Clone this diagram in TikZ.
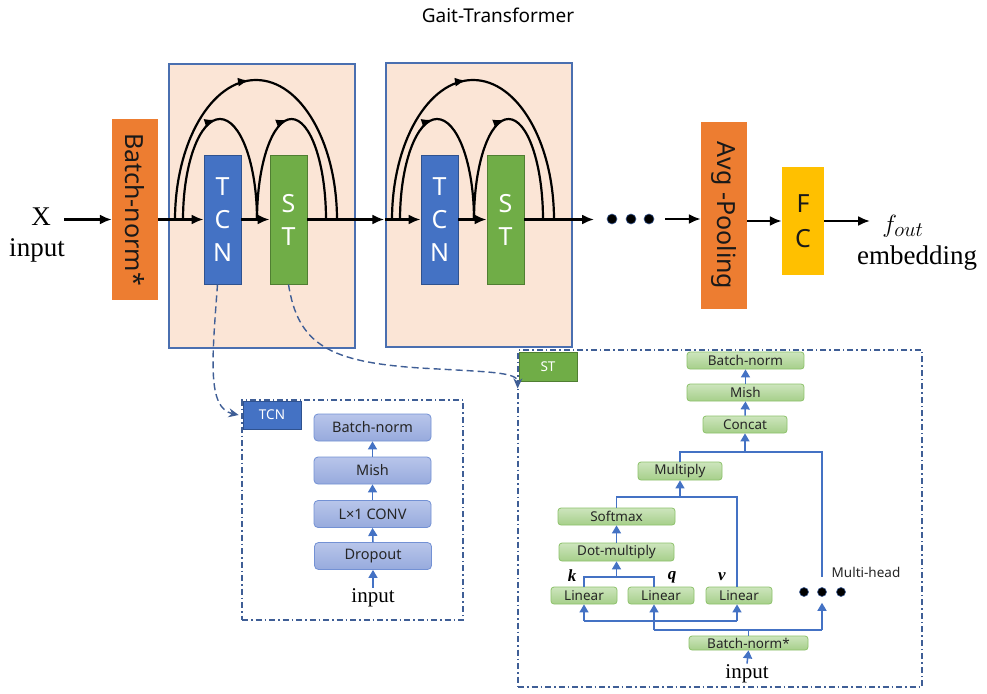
\documentclass[tikz,border=0pt]{standalone}
\usepackage{fontspec}
\setmainfont{Liberation Serif}
\newfontfamily\sansf{Noto Sans}
\usetikzlibrary{arrows.meta,decorations.markings}
\definecolor{peach}{HTML}{FBE5D6}
\definecolor{blkborder}{HTML}{4A6FB0}
\definecolor{tcnblue}{HTML}{4472C4}
\definecolor{tcnborder}{HTML}{2F528F}
\definecolor{stgreen}{HTML}{70AD47}
\definecolor{stborder}{HTML}{507E32}
\definecolor{orng}{HTML}{ED7D31}
\definecolor{gold}{HTML}{FFC000}
\definecolor{lnblue}{HTML}{4472C4}
\definecolor{dashc}{HTML}{3F5E96}
\definecolor{tboxtop}{HTML}{B8C5EA}
\definecolor{tboxbot}{HTML}{97AADD}
\definecolor{tboxdraw}{HTML}{7391D4}
\definecolor{sboxtop}{HTML}{CDE5BD}
\definecolor{sboxbot}{HTML}{A6CF8A}
\definecolor{sboxdraw}{HTML}{8DC26B}
\newcommand\myarcset{%
  \draw[skiparc] (175,220) .. controls (175,143) and (211,80) .. (256,80) .. controls (301,80) and (337,143) .. (337,220);
  \draw[skiparc] (183,220) .. controls (183,164) and (199.6,119) .. (220,119) .. controls (240.4,119) and (257,164) .. (257,220);
  \draw[skiparc] (257,220) .. controls (257,164) and (272.5,119) .. (291.5,119) .. controls (310.5,119) and (326,164) .. (326,220);
}
\begin{document}
\begin{tikzpicture}[x=1pt,y=-1pt,
  blk/.style={draw=blkborder, fill=peach, line width=1.3pt, minimum width=186pt, minimum height=284pt, inner sep=0pt},
  bigtxt/.style={font=\sansf\fontsize{25}{33}\selectfont, align=center, inner sep=0pt},
  tcnm/.style={bigtxt, draw=tcnborder, fill=tcnblue, line width=0.9pt, minimum width=37pt, minimum height=129pt, text=white},
  stm/.style={bigtxt, draw=stborder, fill=stgreen, line width=0.9pt, minimum width=37pt, minimum height=129pt, text=white},
  flow/.style={-{Latex[length=12pt,width=10pt]}, line width=2.2pt},
  skiparc/.style={line width=2.2pt, postaction={decorate}, decoration={markings, mark=at position 0.48 with {\arrow{Latex[length=11pt,width=9pt]}}}},
  tbox/.style={draw=tboxdraw, line width=0.8pt, rounded corners=4pt, top color=tboxtop, bottom color=tboxbot, minimum width=117pt, minimum height=27pt, inner sep=0pt, font=\sansf\fontsize{14.5}{16}\selectfont, text=black!85},
  sbox/.style={draw=sboxdraw, line width=0.8pt, rounded corners=3pt, top color=sboxtop, bottom color=sboxbot, minimum height=17pt, inner sep=0pt, font=\sansf\fontsize{13.5}{15}\selectfont, text=black!85},
  bline/.style={draw=lnblue, line width=1.5pt},
  barrow/.style={bline, -{Triangle[length=8pt,width=9pt]}},
  dd/.style={draw=dashc, line width=1.2pt, dash pattern=on 6pt off 3pt on 1.5pt off 3pt},
  dcon/.style={draw=dashc, line width=1.4pt, dash pattern=on 7pt off 4pt, -{Stealth[length=10pt,width=9pt]}},
  dotn/.style={circle, fill=black, draw=dashc, line width=0.6pt, minimum size=9pt, inner sep=0pt},
  bigserif/.style={font=\fontsize{27}{30}\selectfont, inner sep=0pt},
  smallserif/.style={font=\fontsize{21}{24}\selectfont, inner sep=1pt},
]
\useasboundingbox (0,0) rectangle (987,693);
\fill[white] (0,0) rectangle (987,693);

% title
\node[font=\sansf\fontsize{19}{22}\selectfont] (title) at (498,15) {Gait-Transformer};

% blocks
\node[blk] (blk1) at (262,206) {};
\node[blk] (blk2) at (479,205) {};

% dashed detail frames
\node[dd, minimum width=221pt, minimum height=220pt, inner sep=0pt] (tcnbox) at (352.5,510) {};
\node[dd, minimum width=404pt, minimum height=337pt, inner sep=0pt] (stbox) at (720,518.5) {};

% detail labels
\node[draw=tcnborder, fill=tcnblue, line width=0.8pt, minimum width=58pt, minimum height=28pt, inner sep=0pt, text=white, font=\sansf\fontsize{13.5}{15}\selectfont] (tcnlab) at (272,415) {TCN};
\node[draw=stborder, fill=stgreen, line width=0.8pt, minimum width=58pt, minimum height=29pt, inner sep=0pt, text=white, font=\sansf\fontsize{13.5}{15}\selectfont] (stlab) at (548,366.5) {ST};

% main boxes
\node[draw=none, fill=orng, minimum width=46pt, minimum height=181pt, inner sep=0pt] (bn) at (135,209.5) {};
\node[rotate=-90, font=\sansf\fontsize{25}{30}\selectfont, text=black!90] at (bn.center) {Batch-norm*};
\node[tcnm] (tcn1) at (222.5,219.5) {T\\C\\N};
\node[stm] (st1) at (288.5,219.5) {S\\T};
\myarcset
\begin{scope}[xshift=217pt]
\node[tcnm] (tcn2) at (222.5,219.5) {T\\C\\N};
\node[stm] (st2) at (288.5,219.5) {S\\T};
\myarcset
\end{scope}
\node[draw=none, fill=orng, minimum width=46pt, minimum height=187pt, inner sep=0pt] (avg) at (724,215.5) {};
\node[rotate=-90, font=\sansf\fontsize{25}{30}\selectfont, text=black!90] at (avg.center) {Avg -Pooling};
\node[fill=gold, minimum width=42pt, minimum height=108pt, inner sep=0pt, font=\sansf\fontsize{25}{35}\selectfont, align=center, text=black!90] (fc) at (803,221) {F\\C};

% texts
\node[bigserif] (xin) at (41,217) {X};
\node[bigserif] (xlab) at (37,250) {input};
\node[font=\fontsize{28}{30}\selectfont] (fout) at (903,226) {$f_{out}$};
\node[bigserif] (emb) at (917,258) {embedding};

% dots
\node[dotn, minimum size=10pt] (d1) at (612,219) {};
\node[dotn, minimum size=10pt] (d2) at (631,219) {};
\node[dotn, minimum size=10pt] (d3) at (649,219) {};

% main flow
\coordinate (xs) at (64,219.5);
\draw[flow] (xs) -- (bn.west |- xs);
\draw[flow] (bn.east |- tcn1) -- (tcn1.west);
\draw[flow] (tcn1.east) -- (st1.west);
\draw[flow] (st1.east) -- ([xshift=-1pt]blk2.west |- st1);
\draw[flow] (blk2.west |- tcn2) -- (tcn2.west);
\draw[flow] (tcn2.east) -- (st2.west);
\draw[flow] (st2.east) -- ([xshift=-18pt]d1.center |- st2);
\draw[flow] ([xshift=16pt]d3.center) -- (avg.west |- d3);
\draw[flow] (avg.east |- fc) -- (fc.west);
\draw[flow] (fc.east) -- ([xshift=-33pt]fout.center |- fc);

% dashed connectors
\draw[dcon] ([xshift=-5pt]tcn1.south) .. controls (212,360) and (207,408) .. ([xshift=-4pt]tcnlab.west);
\draw[dcon] (st1.south) .. controls (298,345) and (330,362) .. (420,368) .. controls (490,372) and (518,372) .. ([xshift=-1pt,yshift=-7pt]stlab.south west);

% TCN detail
\node[tbox] (tb1) at (372.5,427.5) {Batch-norm};
\node[tbox] (tb2) at (372.5,470.5) {Mish};
\node[tbox] (tb3) at (372.5,514) {L×1 CONV};
\node[tbox] (tb4) at (373,556) {Dropout};
\node[smallserif] (tin) at (373,598) {input};
\draw[barrow] (tin.north) -- (tb4.south);
\draw[barrow] (tb4.north) -- (tb3.south);
\draw[barrow] (tb3.north) -- (tb2.south);
\draw[barrow] (tb2.north) -- (tb1.south);

% ST detail
\node[sbox, minimum width=117pt] (s1) at (745.5,360.5) {Batch-norm};
\node[sbox, minimum width=117pt] (s2) at (745.5,392.5) {Mish};
\node[sbox, minimum width=84pt] (cc) at (745,424.5) {Concat};
\node[sbox, minimum width=84pt, minimum height=18pt] (mu) at (680,471) {Multiply};
\node[sbox, minimum width=117pt] (sm) at (616.5,516.5) {Softmax};
\node[sbox, minimum width=115pt, minimum height=18pt] (dm) at (616.5,552) {Dot-multiply};
\node[sbox, minimum width=66pt] (l1) at (584,595.5) {Linear};
\node[sbox, minimum width=66pt] (l2) at (661,595.5) {Linear};
\node[sbox, minimum width=66pt] (l3) at (739,595.5) {Linear};
\node[sbox, minimum width=119pt, minimum height=14pt] (bns) at (748.5,643) {Batch-norm*};
\node[smallserif] (sin) at (747,674) {input};
\node[dotn] (md1) at (804,592) {};
\node[dotn] (md2) at (822,592) {};
\node[dotn] (md3) at (841,592) {};
\node[font=\sansf\fontsize{13.5}{15}\selectfont, text=black!85] (mh) at (866,572) {Multi-head};
\node[font=\fontsize{17}{18}\selectfont] (kl) at (572,576) {\textbf{\textit{k}}};
\node[font=\fontsize{17}{18}\selectfont] (ql) at (672,577) {\textbf{\textit{q}}};
\node[font=\fontsize{17}{18}\selectfont] (vl) at (722,577) {\textbf{\textit{v}}};

\coordinate (ja) at (748.5,630);
\coordinate (jb) at (654,630);
\coordinate (jc) at (822,630);
\coordinate (jd) at (584,621);
\coordinate (je) at (737,621);
\coordinate (jf) at (654,577);
\coordinate (jh) at (737,497);
\coordinate (ji) at (822,452);

\draw[barrow] (sin.north) -- (bns.south);
\draw[bline] (bns.north) -- (ja);
\draw[bline] (jb) -- (jc);
\draw[barrow] (jb) -- (jb |- l2.south);
\draw[barrow, shorten >=6pt] (jc) -- (md2);
\draw[bline] (jd) -- (je);
\draw[barrow] (jd) -- (l1.south);
\draw[barrow] (je) -- (je |- l3.south);
\draw[bline] (l1.north) |- (jf) -- (jf |- l2.north);
\draw[barrow] (dm.south |- jf) -- (dm.south);
\draw[barrow] (dm.north) -- (sm.south);
\draw[bline] (sm.north) |- (jh) -- (jh |- l3.north);
\draw[barrow] (mu.south |- jh) -- (mu.south);
\draw[bline] (mu.north) |- (ji) -- ([yshift=10pt]md2.north);
\draw[barrow] (cc.south |- ji) -- (cc.south);
\draw[barrow] (cc.north) -- (s2.south);
\draw[barrow] (s2.north) -- (s1.south);
\end{tikzpicture}
\end{document}
